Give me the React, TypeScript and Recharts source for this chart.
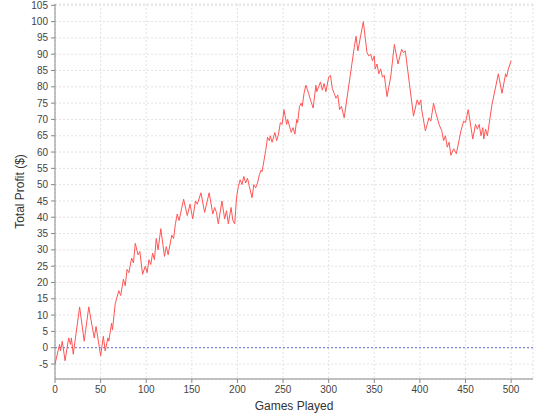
import React from 'react'
import { LineChart, Line, XAxis, YAxis, CartesianGrid, ReferenceLine } from 'recharts'

// turning points of the profit walk
const games = [
  0, 5, 6, 8, 11, 15, 17, 18, 20, 27, 32, 37, 43, 45, 47, 50, 53, 55, 58, 59,
  62, 63, 66, 70, 72, 75, 77, 79, 81, 84, 86, 88, 91, 93, 96, 99, 101, 103, 105, 107,
  109, 111, 113, 116, 120, 122, 124, 128, 130, 132, 134, 136, 141, 145, 148, 151, 154, 156, 160, 164,
  169, 173, 175, 177, 179, 183, 186, 188, 190, 193, 195, 197, 199, 201, 203, 205, 207, 209, 211, 213,
  216, 218, 220, 222, 224, 226, 227, 231, 233, 235, 236, 238, 241, 243, 245, 247, 249, 251, 254, 255,
  258, 259, 261, 263, 265, 266, 268, 270, 271, 273, 275, 278, 280, 283, 286, 287, 289, 291, 293, 295,
  297, 300, 302, 304, 306, 308, 310, 312, 314, 317, 328, 330, 332, 338, 342, 344, 346, 348, 350, 351,
  353, 355, 357, 359, 361, 364, 368, 372, 376, 380, 382, 384, 393, 397, 399, 401, 402, 406, 410, 412,
  415, 417, 421, 424, 426, 428, 430, 432, 434, 437, 440, 445, 448, 450, 453, 458, 461, 463, 465, 467,
  469, 470, 472, 474, 479, 486, 490, 494, 495, 497, 500,
]

const profit = [
  -5, 1, -1, 2, -4, 3, 1, 3, -2, 12.5, 2, 12.5, 3, 6.5, 3, -2.5, 3.5, -1, 3, 2,
  7.5, 5.5, 13.5, 17.5, 16, 21, 19, 24, 23, 27.5, 26, 32, 28.5, 29.5, 22.5, 25, 23, 27, 25.5, 29,
  27, 33.5, 30, 36.5, 28, 31, 28.5, 34.5, 33.5, 38, 41, 39, 45.5, 40.5, 44, 39.5, 45, 44, 47.5, 41.5,
  47.5, 41, 43, 41.5, 38, 45, 39.5, 42, 38, 43, 39, 38, 46, 49.5, 51.5, 50, 52.5, 50.5, 52, 49.5,
  46, 50, 49, 50.5, 53, 54.5, 54, 60.5, 64.5, 63.5, 65, 63, 66, 63.5, 65.5, 69, 68.5, 73, 68.5, 70,
  67, 66, 67.5, 65.5, 70, 69, 74, 75, 74, 78, 80.5, 78, 76, 73.5, 80.5, 78.5, 80, 81.5, 79, 81,
  78.5, 83, 83.5, 79.5, 78, 76.5, 77.5, 73, 74, 70.5, 92, 95.5, 91, 100, 90.5, 89.5, 90, 88, 89.5, 85.5,
  87, 84, 85.5, 83, 83.5, 77, 83, 93, 87, 91.5, 90.5, 91, 71, 76, 74.5, 76, 73, 66.5, 70.5, 69.5,
  75, 72.5, 68.5, 66.5, 63.5, 65, 61.5, 63, 59, 61, 59.5, 66.5, 69.5, 69, 73, 64, 68.5, 67, 68.5, 65,
  67.5, 64, 67, 65, 74.5, 84, 78, 84, 83, 85.5, 88,
]

const xTicks = [0, 50, 100, 150, 200, 250, 300, 350, 400, 450, 500]
const yTicks = [-5, 0, 5, 10, 15, 20, 25, 30, 35, 40, 45, 50, 55, 60, 65, 70, 75, 80, 85, 90, 95, 100, 105]

const rows = games.map((g, i) => ({ game: g, profit: profit[i] }))

const font = '"Liberation Sans", Arial, sans-serif'
const tickStyle = { fontSize: 10, fill: '#444', fontFamily: font }

export default function App() {
  return (
    <div style={{ position: 'absolute', left: 0, top: 0, width: 540, height: 420, background: '#fff' }}>
      <LineChart width={540} height={420} data={rows} margin={{ top: 4, right: 7, left: 0, bottom: 0 }}>
        <CartesianGrid stroke="#e2e2e2" strokeDasharray="2 2" />
        <XAxis
          dataKey="game"
          type="number"
          domain={[0, 524]}
          ticks={xTicks}
          allowDataOverflow
          height={41}
          stroke="#888"
          tickSize={4}
          tickMargin={3}
          tick={tickStyle}
          label={{ value: 'Games Played', position: 'insideBottom', offset: 10, style: { fontSize: 12, fill: '#333', fontFamily: font } }}
        />
        <XAxis xAxisId="top" orientation="top" dataKey="game" type="number" domain={[0, 524]} tick={false} tickLine={false} height={0} stroke="#b0b0b0" />
        <YAxis
          type="number"
          domain={[-9.6, 105.4]}
          ticks={yTicks}
          allowDataOverflow
          interval={0}
          width={55}
          stroke="#888"
          tickSize={4}
          tickMargin={3}
          tick={tickStyle}
          label={{ value: 'Total Profit ($)', angle: -90, position: 'insideLeft', offset: 20, style: { textAnchor: 'middle', fontSize: 12, fill: '#333', fontFamily: font } }}
        />
        <YAxis yAxisId="right" orientation="right" domain={[-9.6, 105.4]} tick={false} tickLine={false} width={0} stroke="#b0b0b0" />
        <ReferenceLine y={0} stroke="#6a6ad0" strokeDasharray="2 2" />
        <Line type="linear" dataKey="profit" stroke="#ff5555" strokeWidth={1} dot={false} isAnimationActive={false} />
      </LineChart>
    </div>
  )
}
